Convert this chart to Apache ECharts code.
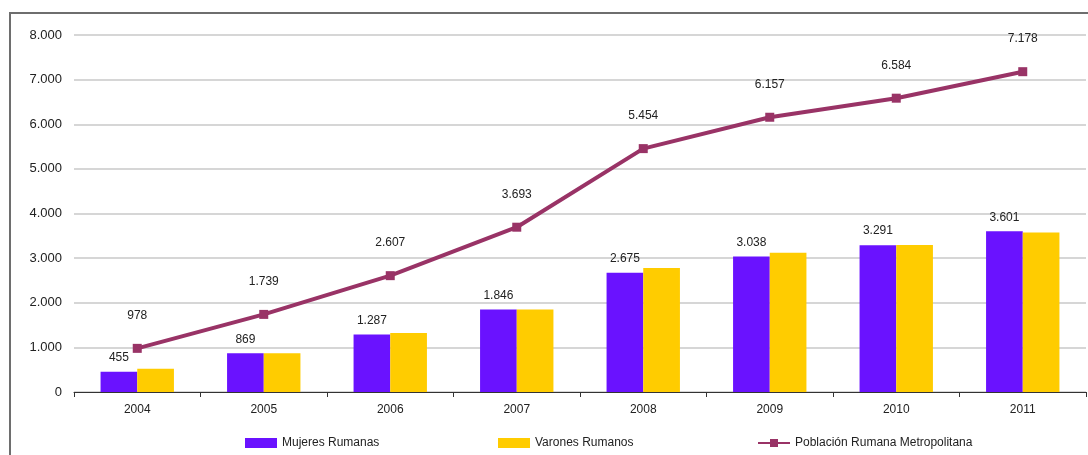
<!DOCTYPE html>
<html>
<head>
<meta charset="utf-8">
<script src="https://cdn.jsdelivr.net/npm/echarts@6/dist/echarts.min.js"></script>
<style>
  html, body { margin: 0; padding: 0; background: #fff; }
  #chart { width: 1088px; height: 455px; }
</style>
</head>
<body>
<div id="chart"></div>
<script>
var years = ['2004', '2005', '2006', '2007', '2008', '2009', '2010', '2011'];
var mujeres = [455, 869, 1287, 1846, 2675, 3038, 3291, 3601];
var varones = [523, 870, 1320, 1847, 2779, 3119, 3293, 3577];
var poblacion = [978, 1739, 2607, 3693, 5454, 6157, 6584, 7178];

var FONT = "'Liberation Sans Narrow', 'Liberation Sans', Arial, sans-serif";

// numero con punto de miles
function miles(v) {
  return String(v).replace(/\B(?=(\d{3})+(?!\d))/g, '.');
}

// una leyenda por serie, para colocarlas como en el original
function leyenda(nombre, left, icon) {
  return {
    bottom: 1,
    left: left,
    itemWidth: 32,
    itemHeight: 10,
    textStyle: { color: '#222', fontSize: 12, fontFamily: FONT },
    data: [icon ? { name: nombre, icon: icon } : nombre]
  };
}

var myChart = echarts.init(document.getElementById('chart'));
myChart.setOption({
  animation: false,
  textStyle: { fontFamily: FONT },
  graphic: [{
    type: 'rect',
    shape: { x: 10, y: 13, width: 1200, height: 600 },
    style: { fill: 'none', stroke: '#6e6e6e', lineWidth: 2 },
    silent: true
  }],
  grid: { left: 74, right: 2, top: 35, bottom: 63 },
  legend: [
    leyenda('Mujeres Rumanas', 240, 'rect'),
    leyenda('Varones Rumanos', 493, 'rect'),
    leyenda('Población Rumana Metropolitana', 752)
  ],
  xAxis: {
    type: 'category',
    data: years,
    axisLine: { lineStyle: { color: '#333', width: 1 } },
    axisTick: { show: true, length: 5, lineStyle: { color: '#333' } },
    axisLabel: { color: '#222', fontSize: 12, margin: 12, fontFamily: FONT }
  },
  yAxis: {
    type: 'value',
    min: 0,
    max: 8000,
    interval: 1000,
    axisLine: { show: false },
    axisTick: { show: false },
    axisLabel: { color: '#222', fontSize: 13, margin: 12, fontFamily: FONT, formatter: miles },
    splitLine: { lineStyle: { color: '#c8c8c8', width: 1.5 } }
  },
  series: [
    {
      name: 'Mujeres Rumanas',
      type: 'bar',
      data: mujeres,
      barGap: '0%',
      barCategoryGap: '42%',
      itemStyle: { color: '#6a12ff' },
      label: {
        show: true,
        position: 'top',
        distance: 8,
        color: '#222',
        fontSize: 12,
        fontFamily: FONT,
        formatter: function (p) { return miles(p.value); }
      }
    },
    {
      name: 'Varones Rumanos',
      type: 'bar',
      data: varones,
      itemStyle: { color: '#ffcc00' }
    },
    {
      name: 'Población Rumana Metropolitana',
      type: 'line',
      data: poblacion,
      symbol: 'rect',
      symbolSize: 9,
      lineStyle: { color: '#993366', width: 4 },
      itemStyle: { color: '#993366' },
      z: 5,
      label: {
        show: true,
        position: 'top',
        distance: 22,
        color: '#222',
        fontSize: 12,
        fontFamily: FONT,
        formatter: function (p) { return miles(p.value); }
      }
    }
  ]
});
</script>
</body>
</html>
